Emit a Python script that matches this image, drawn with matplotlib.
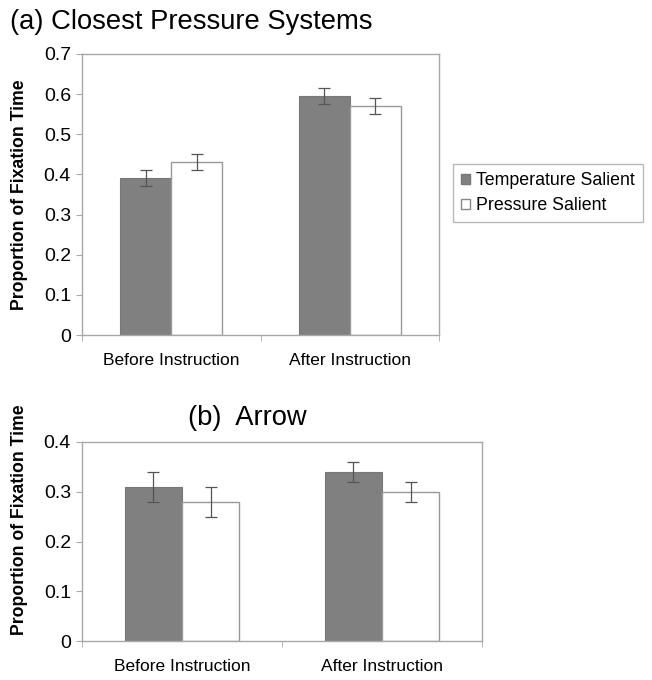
import matplotlib
matplotlib.use("Agg")
import matplotlib.pyplot as plt
import numpy as np
from matplotlib.patches import Patch

plt.rcParams['font.family'] = ['Liberation Sans', 'DejaVu Sans']

categories = ["Before Instruction", "After Instruction"]
series = ["Temperature Salient", "Pressure Salient"]

a_temp = [0.39, 0.595]
a_temp_err = [0.02, 0.02]
a_press = [0.43, 0.57]
a_press_err = [0.02, 0.02]

b_temp = [0.31, 0.34]
b_temp_err = [0.03, 0.02]
b_press = [0.28, 0.30]
b_press_err = [0.03, 0.02]

a_yticks = [0, 0.1, 0.2, 0.3, 0.4, 0.5, 0.6, 0.7]
a_yticklabels = ["0", "0.1", "0.2", "0.3", "0.4", "0.5", "0.6", "0.7"]
b_yticks = [0, 0.1, 0.2, 0.3, 0.4]
b_yticklabels = ["0", "0.1", "0.2", "0.3", "0.4"]

W, H = 652, 680
fig = plt.figure(figsize=(W / 100, H / 100), dpi=100)

frame = "#a8a8a8"
dark = "#808080"
errc = "#555555"

def px(l, t, r, b):
    return [l / W, 1 - b / H, (r - l) / W, (b - t) / H]

def panel(ax, temp, terr, press, perr, ymax, yt, ytl):
    x = np.arange(len(categories))
    w = 0.287
    ax.bar(x - w / 2, temp, w, color=dark, edgecolor="#777777", linewidth=0.8, zorder=2)
    ax.bar(x + w / 2, press, w, color="white", edgecolor="#999999", linewidth=1.0, zorder=2)
    ax.errorbar(x - w / 2, temp, yerr=terr, fmt="none", ecolor=errc, elinewidth=0.9,
                capsize=4, capthick=0.9, zorder=3)
    ax.errorbar(x + w / 2, press, yerr=perr, fmt="none", ecolor=errc, elinewidth=0.9,
                capsize=4, capthick=0.9, zorder=3)
    ax.set_xlim(-0.5, len(categories) - 0.5)
    ax.set_ylim(0, ymax)
    ax.set_yticks(yt)
    ax.set_yticklabels(ytl, fontsize=14)
    ax.set_xticks(x)
    ax.set_xticklabels(categories, fontsize=12.5)
    ax.set_xticks(np.arange(-0.5, len(categories), 1.0), minor=True)
    ax.tick_params(axis="x", which="major", length=0, pad=13)
    ax.tick_params(axis="x", which="minor", length=4, color=frame, direction="out")
    ax.tick_params(axis="y", length=4, color=frame, direction="out", pad=4)
    for s in ax.spines.values():
        s.set_color(frame)
        s.set_linewidth(1.0)
    ax.set_ylabel("Proportion of Fixation Time", fontsize=12.7, fontweight="bold")

ax1 = fig.add_axes(px(82, 54, 439, 335))
panel(ax1, a_temp, a_temp_err, a_press, a_press_err, 0.7, a_yticks, a_yticklabels)
ax1.yaxis.set_label_coords(-0.15, 0.5)

ax2 = fig.add_axes(px(82, 442, 482, 641))
panel(ax2, b_temp, b_temp_err, b_press, b_press_err, 0.4, b_yticks, b_yticklabels)
ax2.yaxis.set_label_coords(-0.134, 0.61)

fig.text(10 / W, 1 - 22 / H, "(a) Closest Pressure Systems", fontsize=19.7, va="center", ha="left")
fig.text(247 / W, 1 - 418 / H, "(b)  Arrow", fontsize=19.7, va="center", ha="center")

handles = [Patch(facecolor=dark, edgecolor="#777777"), Patch(facecolor="white", edgecolor="#888888")]
leg = fig.legend(handles, series, loc="upper left", bbox_to_anchor=(453 / W, 1 - 164 / H),
                 fontsize=12.8, frameon=True, fancybox=False, handlelength=0.5, handleheight=0.5,
                 handletextpad=0.35, borderpad=0.45, labelspacing=0.45, borderaxespad=0)
leg.get_frame().set_edgecolor(frame)
leg.get_frame().set_linewidth(1.0)

fig.savefig("out.png", dpi=100)
